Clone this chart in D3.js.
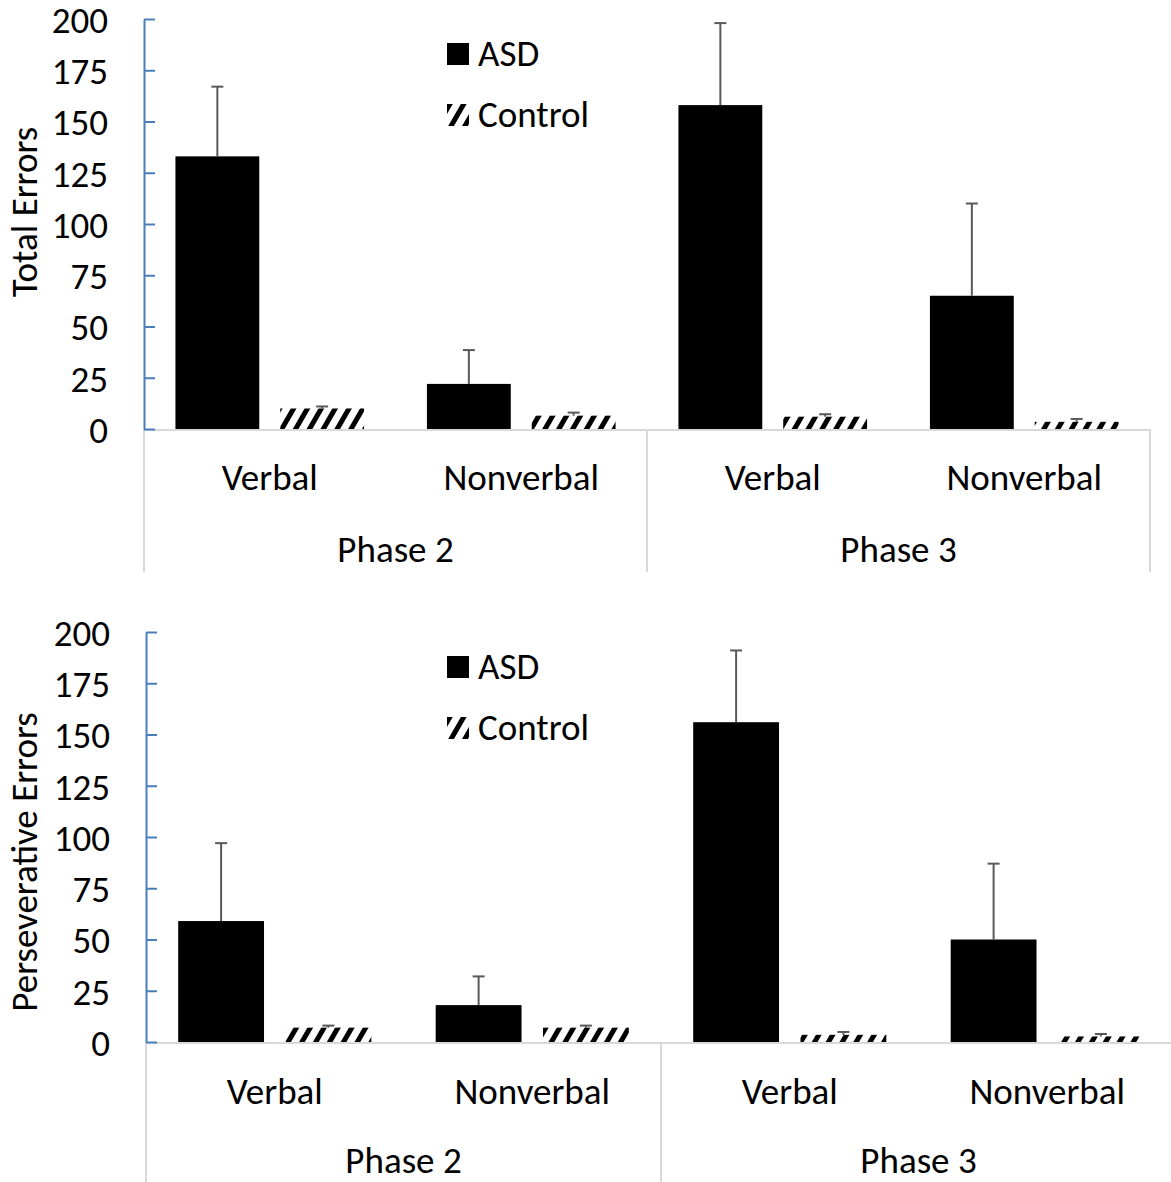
<!DOCTYPE html>
<html>
<head>
<meta charset="utf-8">
<script src="https://cdn.jsdelivr.net/npm/d3@7"></script>
<style>
  body { margin: 0; background: #fff; }
  svg text { font-family: Carlito, Calibri, Lato, sans-serif; fill: #000; }
</style>
</head>
<body>
<svg id="viz"></svg>
<script>
var width = 1171;
var height = 1182;
var fontSize = "37px";

// data
var phases = ["Phase 2", "Phase 3"];
var conditions = ["Verbal", "Nonverbal"];
var groups = ["ASD", "Control"];
var yTicks = [0, 25, 50, 75, 100, 125, 150, 175, 200];

// order: P2 Verbal, P2 Nonverbal, P3 Verbal, P3 Nonverbal
var totalASD = [133, 22, 158, 65];
var totalASDErr = [34, 16.5, 40, 45];
var totalControl = [10, 6.5, 6, 3.5];
var totalControlErr = [1, 1.5, 1.2, 1.4];

var persevASD = [59, 18, 156, 50];
var persevASDErr = [38, 14, 35, 37];
var persevControl = [7, 7, 3.5, 2.7];
var persevControlErr = [1, 1, 1.4, 1.2];

var svg = d3.select("#viz")
    .attr("width", width)
    .attr("height", height);

// hatch pattern for Control
var defs = svg.append("defs");
defs.append("pattern")
    .attr("id", "hatch")
    .attr("patternUnits", "userSpaceOnUse")
    .attr("width", 12)
    .attr("height", 12)
    .attr("patternTransform", "rotate(30)")
  .append("rect")
    .attr("x", 0)
    .attr("y", 0)
    .attr("width", 5)
    .attr("height", 12)
    .attr("fill", "#000");

function drawPanel(cfg) {
    var g = svg.append("g");

    var cats = [];
    phases.forEach(function (p) {
        conditions.forEach(function (c) {
            cats.push(p + "|" + c);
        });
    });

    var x = d3.scaleBand()
        .domain(cats)
        .range([cfg.x0, cfg.x1])
        .padding(0);

    var xg = d3.scaleBand()
        .domain(groups)
        .range([0, x.bandwidth()])
        .paddingInner(0.2)
        .paddingOuter(0.3);

    var y = d3.scaleLinear()
        .domain([0, 200])
        .range([cfg.y0, cfg.y1]);

    // category axis lines
    g.append("line")
        .attr("x1", cfg.x0).attr("x2", cfg.x1)
        .attr("y1", cfg.y0 + 1).attr("y2", cfg.y0 + 1)
        .attr("stroke", "#d9d9d9").attr("stroke-width", 2);

    var phaseW = (cfg.x1 - cfg.x0) / phases.length;
    d3.range(phases.length + 1).forEach(function (i) {
        g.append("line")
            .attr("x1", cfg.x0 + i * phaseW).attr("x2", cfg.x0 + i * phaseW)
            .attr("y1", cfg.y0).attr("y2", cfg.sepBottom)
            .attr("stroke", "#d9d9d9").attr("stroke-width", 2);
    });

    // bars
    var rows = cats.map(function (c, i) {
        return [
            { cat: c, group: "ASD", v: cfg.asd[i], e: cfg.asdErr[i] },
            { cat: c, group: "Control", v: cfg.ctl[i], e: cfg.ctlErr[i] }
        ];
    });
    var flat = [].concat.apply([], rows);

    g.selectAll("rect.bar")
        .data(flat)
        .enter().append("rect")
        .attr("class", "bar")
        .attr("x", function (d) { return x(d.cat) + xg(d.group); })
        .attr("width", xg.bandwidth())
        .attr("y", function (d) { return y(d.v); })
        .attr("height", function (d) { return y(0) - y(d.v); })
        .attr("fill", function (d) { return d.group === "ASD" ? "#000" : "url(#hatch)"; });

    // error bars (plus only)
    var err = g.selectAll("g.err")
        .data(flat)
        .enter().append("g")
        .attr("class", "err")
        .attr("stroke", "#595959")
        .attr("stroke-width", 2);

    err.append("line")
        .attr("x1", function (d) { return x(d.cat) + xg(d.group) + xg.bandwidth() / 2; })
        .attr("x2", function (d) { return x(d.cat) + xg(d.group) + xg.bandwidth() / 2; })
        .attr("y1", function (d) { return y(d.v); })
        .attr("y2", function (d) { return y(d.v + d.e); });

    err.append("line")
        .attr("x1", function (d) { return x(d.cat) + xg(d.group) + xg.bandwidth() / 2 - 6; })
        .attr("x2", function (d) { return x(d.cat) + xg(d.group) + xg.bandwidth() / 2 + 6; })
        .attr("y1", function (d) { return y(d.v + d.e); })
        .attr("y2", function (d) { return y(d.v + d.e); });

    // y axis
    var yAxis = d3.axisLeft(y)
        .tickValues(yTicks)
        .tickSizeInner(-11)
        .tickSizeOuter(0)
        .tickPadding(36);

    var ya = g.append("g")
        .attr("transform", "translate(" + cfg.x0 + ",0)")
        .call(yAxis);
    ya.select(".domain").attr("stroke", "#4a7ebb").attr("stroke-width", 2);
    ya.selectAll(".tick line").attr("stroke", "#4a7ebb").attr("stroke-width", 2);
    ya.selectAll(".tick text")
        .attr("fill", "#000")
        .style("font-size", fontSize)
        .attr("dy", "0.36em");

    // category labels
    g.selectAll("text.cat")
        .data(cats)
        .enter().append("text")
        .attr("class", "cat")
        .attr("x", function (d) { return x(d) + x.bandwidth() / 2; })
        .attr("y", cfg.catY)
        .attr("text-anchor", "middle")
        .style("font-size", fontSize)
        .text(function (d) { return d.split("|")[1]; });

    g.selectAll("text.phase")
        .data(phases)
        .enter().append("text")
        .attr("class", "phase")
        .attr("x", function (d, i) { return cfg.x0 + (i + 0.5) * phaseW; })
        .attr("y", cfg.phaseY)
        .attr("text-anchor", "middle")
        .style("font-size", fontSize)
        .text(function (d) { return d; });

    // y title
    g.append("text")
        .attr("transform", "translate(" + 37 + "," + cfg.titleY + ") rotate(-90)")
        .attr("text-anchor", "middle")
        .style("font-size", fontSize)
        .text(cfg.title);

    // legend
    var leg = g.selectAll("g.leg")
        .data(groups)
        .enter().append("g")
        .attr("class", "leg")
        .attr("transform", function (d, i) { return "translate(447," + (cfg.legY + i * 61) + ")"; });
    leg.append("rect")
        .attr("width", 22).attr("height", 22)
        .attr("fill", function (d) { return d === "ASD" ? "#000" : "url(#hatch)"; });
    leg.append("text")
        .attr("x", 31)
        .attr("y", 23)
        .style("font-size", fontSize)
        .text(function (d) { return d; });
}

drawPanel({
    x0: 144, x1: 1150, y0: 429, y1: 19, sepBottom: 572,
    catY: 490, phaseY: 562, titleY: 212, legY: 43,
    title: "Total Errors",
    asd: totalASD, asdErr: totalASDErr, ctl: totalControl, ctlErr: totalControlErr
});

drawPanel({
    x0: 146, x1: 1176, y0: 1042, y1: 632, sepBottom: 1190,
    catY: 1104, phaseY: 1173, titleY: 862, legY: 656,
    title: "Perseverative Errors",
    asd: persevASD, asdErr: persevASDErr, ctl: persevControl, ctlErr: persevControlErr
});
</script>
</body>
</html>
